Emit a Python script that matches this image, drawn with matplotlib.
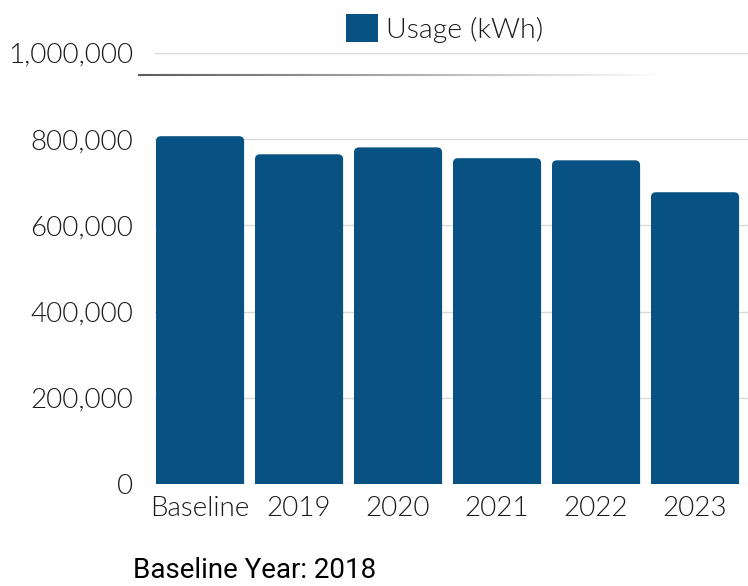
import numpy as np
import matplotlib.pyplot as plt
from matplotlib.patches import FancyBboxPatch
from matplotlib.collections import LineCollection
from matplotlib.ticker import FuncFormatter

# chart data
categories = ['Baseline', '2019', '2020', '2021', '2022', '2023']
usage_kwh = [807000, 765000, 781000, 756000, 751000, 677000]
y_ticks = [0, 200000, 400000, 600000, 800000, 1000000]
series_label = 'Usage (kWh)'
footer_text = 'Baseline Year: 2018'

bar_color = '#075282'
text_color = '#1a1a1a'
W, H = 748, 586

plt.rcParams['font.family'] = ['Lato', 'DejaVu Sans']
plt.rcParams['font.weight'] = 300

fig = plt.figure(figsize=(W / 100, H / 100), dpi=100)
ax = fig.add_axes([155 / W, (H - 484) / H, (W - 155) / W, (484 - 53) / H])

x = np.arange(len(categories))
bars = ax.bar(x, usage_kwh, width=0.89, color=bar_color, label=series_label, zorder=2)

ax.set_xlim(-0.455, 5.535)
ax.set_ylim(0, 1000000)
ax.set_yticks(y_ticks)
ax.yaxis.set_major_formatter(FuncFormatter(lambda v, p: f'{int(v):,}'))
ax.set_xticks(x)
ax.set_xticklabels(categories)
ax.tick_params(axis='y', length=0, pad=16, labelsize=20, labelcolor=text_color)
ax.tick_params(axis='x', length=0, pad=9, labelsize=20, labelcolor=text_color)
for lbl in ax.get_xticklabels() + ax.get_yticklabels():
    lbl.set_fontweight(300)
ax.grid(axis='y', color='#d9d9d9', linewidth=1, zorder=0)
for s in ax.spines.values():
    s.set_visible(False)

# swap the plain rectangles for ones with rounded top corners
fig.canvas.draw()
to_px = ax.transData
px_per_x = to_px.transform((1, 0))[0] - to_px.transform((0, 0))[0]
px_per_y = to_px.transform((0, 1))[1] - to_px.transform((0, 0))[1]
radius_px = 5
for rect in bars.patches:
    bx, bw, bh = rect.get_x(), rect.get_width(), rect.get_height()
    rect.set_visible(False)
    extra = 2 * radius_px / px_per_y
    patch = FancyBboxPatch((bx, -extra), bw, bh + extra,
                           boxstyle=f'round,pad=0,rounding_size={radius_px / px_per_x}',
                           mutation_aspect=px_per_x / px_per_y,
                           facecolor=bar_color, edgecolor='none', zorder=2)
    ax.add_patch(patch)

# legend on top
handle = plt.Rectangle((0, 0), 1, 1, facecolor=bar_color)
leg = fig.legend([handle], [series_label], loc='upper center',
                 bbox_to_anchor=(445 / W, 1.0), frameon=False,
                 prop={'family': 'Lato', 'weight': 300, 'size': 20.5},
                 handlelength=1.1, handleheight=1.1, handletextpad=0.3,
                 borderaxespad=0.1, labelcolor=text_color)

# faded dark rule under the top label
n = 60
xs = np.linspace(138, 667, n + 1) / W
yy = (H - 75) / H
segs = [[(xs[i], yy), (xs[i + 1], yy)] for i in range(n)]
alphas = np.linspace(0.85, 0.0, n)
cols = [(0.25, 0.25, 0.25, a) for a in alphas]
fig.add_artist(LineCollection(segs, colors=cols, linewidths=1.5, transform=fig.transFigure))

fig.text(133 / W, (H - 570) / H, footer_text, fontsize=20, fontweight=400,
         family=['Roboto', 'DejaVu Sans'],
         va='center', ha='left', color='black')

fig.savefig('out.png', dpi=100)
